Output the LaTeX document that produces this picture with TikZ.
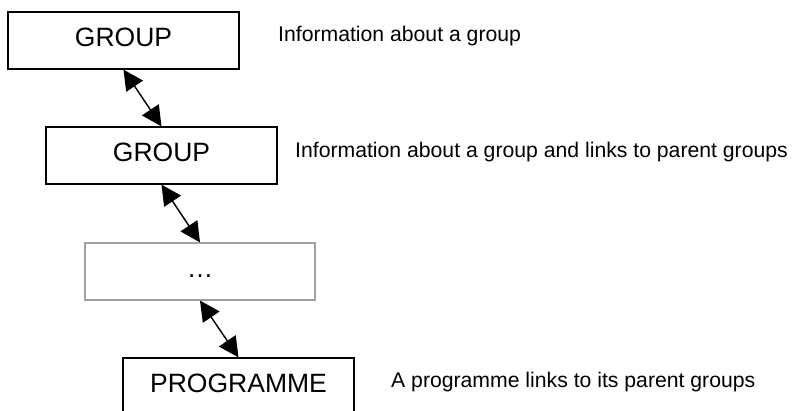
\documentclass[tikz,border=0pt]{standalone}
\usepackage{fontspec}
\setmainfont{Liberation Sans}
\usetikzlibrary{arrows.meta}
\tikzset{
  boxnode/.style={draw=black, line width=1.2pt, minimum width=231pt, minimum height=57pt,
    inner sep=0pt, text height=18.8pt, text depth=6pt, font=\fontsize{26.5}{31}\selectfont},
  graybox/.style={boxnode, draw={rgb,255:red,160;green,160;blue,160}},
  sidelabel/.style={anchor=base west, inner sep=0pt, font=\fontsize{21.2}{25}\selectfont},
  link/.style={line width=1.4pt, {Triangle[length=20pt,width=20pt]}-{Triangle[length=20pt,width=20pt]}}
}
\begin{document}
\begin{tikzpicture}[x=1pt,y=-1pt]
\useasboundingbox (0,0) rectangle (792,410);
\node[boxnode] (g1) at (123.5,40.5) {GROUP};
\node[boxnode] (g2) at (161.5,155.5) {GROUP};
\node[graybox, minimum width=230pt] (g3) at (200,271.5) {…};
\node[boxnode] (p) at (238.5,386.5) {PROGRAMME};
\node[sidelabel] (l1) at (278,41) {Information about a group};
\node[sidelabel] (l2) at (295,157) {Information about a group and links to parent groups};
\node[sidelabel] (l3) at (391,387) {A programme links to its parent groups};
\draw[link] (g1.south) -- (g2.north);
\draw[link] (g2.south) -- (g3.north);
\draw[link] (g3.south) -- (p.north);
\end{tikzpicture}
\end{document}
